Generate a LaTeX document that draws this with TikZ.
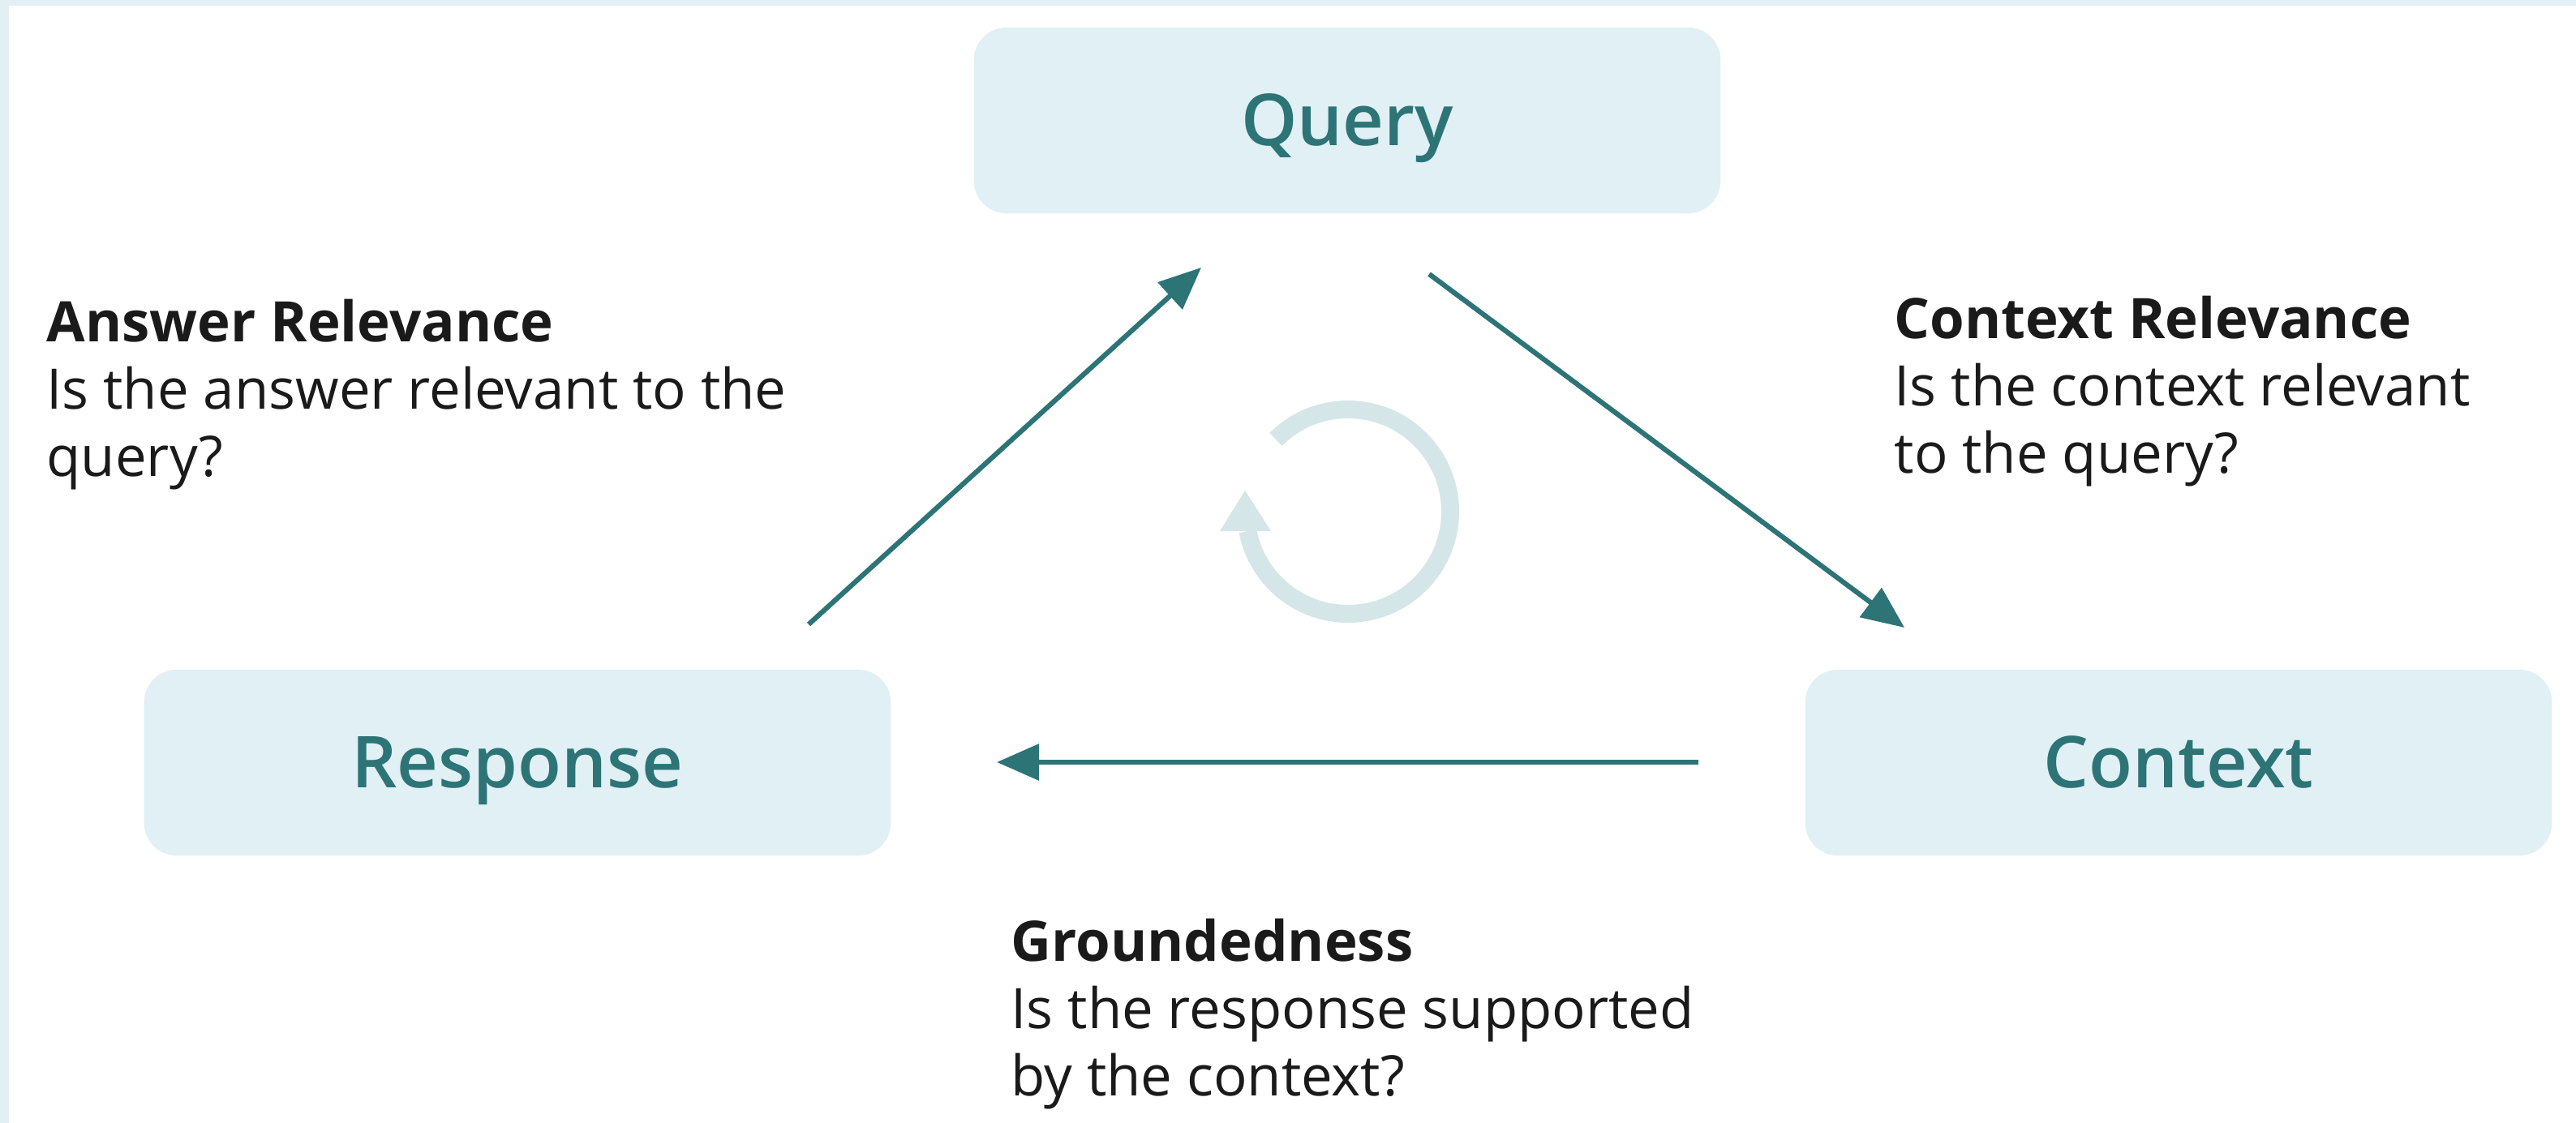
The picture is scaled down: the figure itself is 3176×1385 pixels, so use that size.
\documentclass[tikz,border=0pt]{standalone}
\usepackage{fontspec}
\setmainfont{Open Sans}
% semibold face for the stage labels, bold when no semibold is installed
\IfFontExistsTF{Open Sans Semibold}
  {\newfontfamily\boxface{Open Sans Semibold}\newcommand\boxfont{\boxface\fontsize{25.1}{30}\selectfont}}
  {\newcommand\boxfont{\bfseries\fontsize{23.5}{30}\selectfont}}
\usetikzlibrary{arrows.meta}

\definecolor{framec}{HTML}{E2F0F4}
\definecolor{boxfill}{HTML}{E0F0F4}
\definecolor{tealdark}{HTML}{2D7476}
\definecolor{ringc}{HTML}{D5E6E9}
\definecolor{ink}{HTML}{1A1A1A}

\begin{document}
\begin{tikzpicture}[x=0.01cm, y=-0.01cm,
  stage/.style={fill=boxfill, rounded corners=0.4cm,
    minimum width=9.2cm, minimum height=2.29cm, inner sep=0pt,
    text=tealdark, font=\boxfont,
    text height=17.9pt, text depth=0pt},
  flow/.style={draw=tealdark, line width=1.75pt,
    -{Triangle[length=0.52cm, width=0.44cm]}},
  note/.style={anchor=base west, align=left, inner sep=0pt,
    text=ink, font=\fontsize{19.6}{23.6}\selectfont},
  ring/.style={draw=ringc, line width=0.22cm}]

  % canvas and the light frame along the top and left edges
  \useasboundingbox (0,0) rectangle (3176,1385);
  \fill[white] (0,0) rectangle (3176,1385);
  \fill[framec] (0,0) rectangle (3176,7);
  \fill[framec] (0,0) rectangle (11,1385);

  % the three stages
  \node[stage] (query) at (1661,148.5) {Query};
  \node[stage] (resp)  at (638,940.5)  {Response};
  \node[stage] (ctx)   at (2686,940.5) {Context};

  % cycle symbol in the middle
  \draw[ring] (1662,631) ++(-135:126) arc[start angle=-135, end angle=169, radius=126];
  \fill[ringc] (1535,605) -- (1504,655) -- (1567,655) -- cycle;

  % connector ends
  \coordinate (a1s) at (997,770);
  \coordinate (a1e) at (1481,330);
  \coordinate (a2s) at (1762,338);
  \coordinate (a2e) at (2348,774);
  \coordinate (a3s) at (2094,940);
  \coordinate (a3e) at (1229,940);

  \draw[flow] (a1s) -- (a1e);
  \draw[flow] (a2s) -- (a2e);
  \draw[flow] (a3s) -- (a3e);

  % metric descriptions
  \node[note] (arel) at (57,587)
    {\textbf{Answer Relevance}\\Is the answer relevant to the\\query?};
  \node[note] (crel) at (2335,583)
    {\textbf{Context Relevance}\\Is the context relevant\\to the query?};
  \node[note] (grnd) at (1246,1351)
    {\textbf{Groundedness}\\Is the response supported\\by the context?};
\end{tikzpicture}
\end{document}
